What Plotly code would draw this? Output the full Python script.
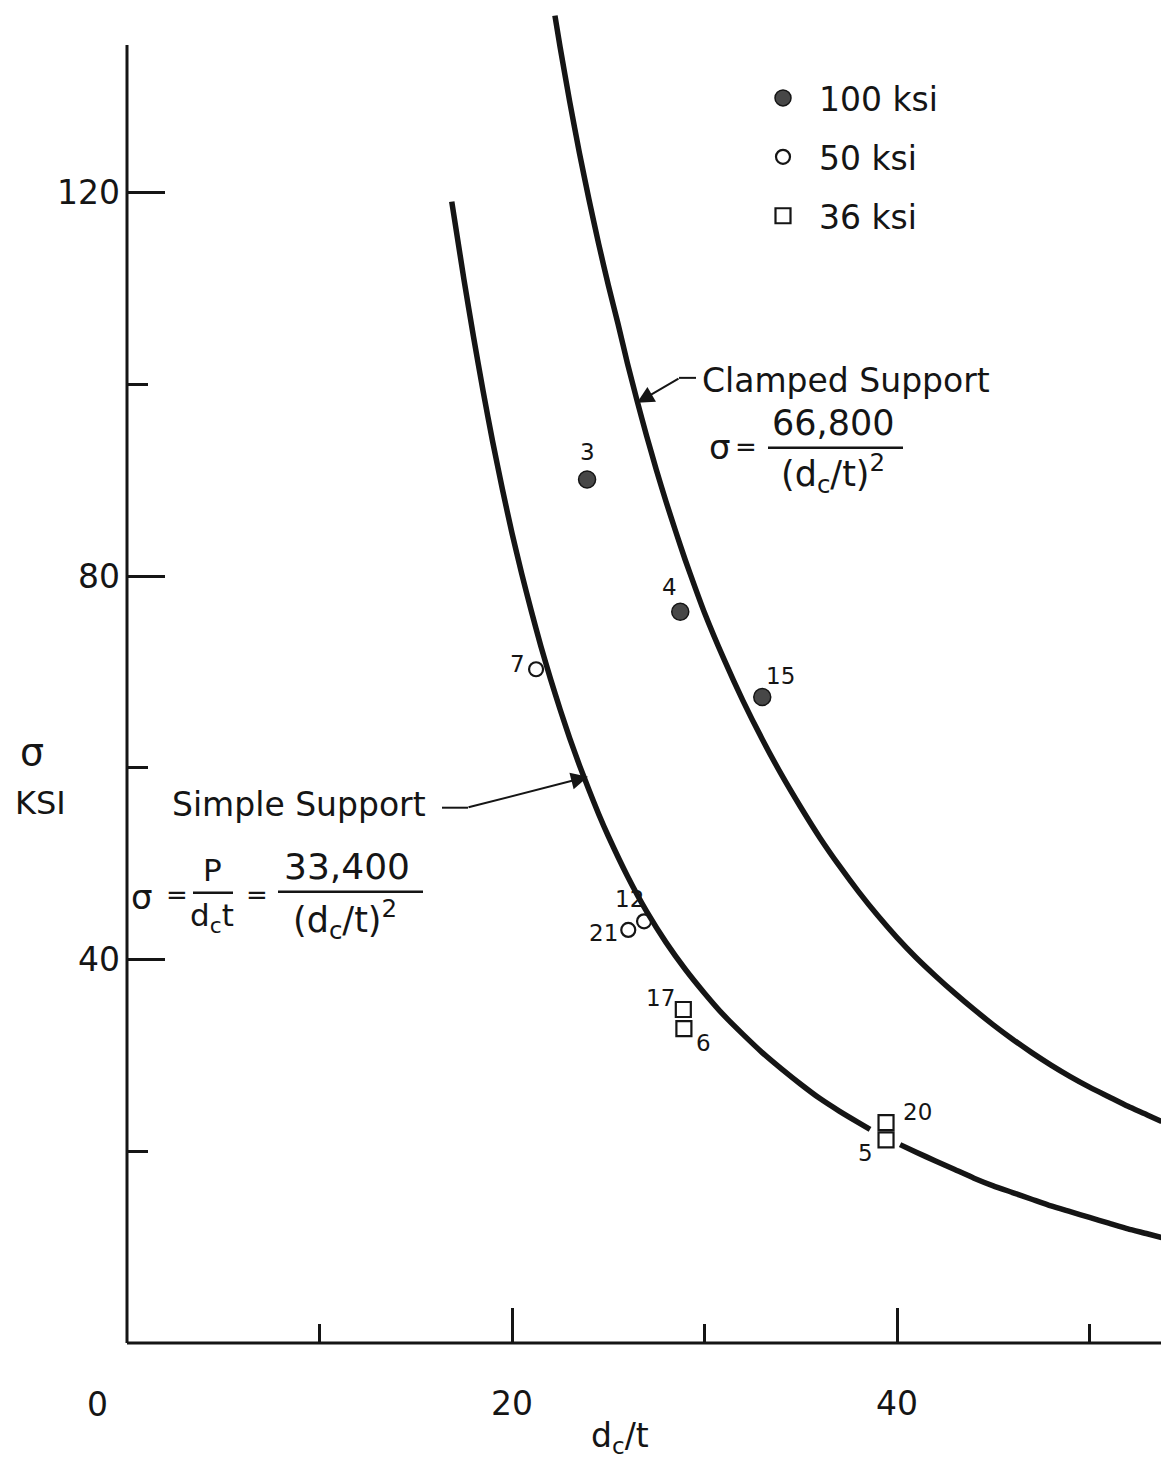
import plotly.graph_objects as go

# ---------------- data ----------------
clamped_x = [22.23, 22.5, 23, 23.5, 24, 24.5, 25, 25.5, 26, 26.5, 27, 27.5, 28, 28.5, 29, 29.5,
             30, 31, 32, 33, 34, 35, 36, 37, 38, 39, 40, 41, 42, 43, 44, 45, 46, 47, 48, 49,
             50, 51, 52, 53, 53.75]
clamped_y = [138.5, 135.2, 129.5, 124.2, 119.3, 114.7, 110.4, 106.4, 102.2, 98.3, 94.6, 91.1,
             87.8, 84.7, 81.7, 78.9, 76.2, 71.4, 67.0, 63.0, 59.3, 55.9, 52.7, 49.8, 47.1, 44.6,
             42.3, 40.2, 38.3, 36.5, 34.8, 33.2, 31.7, 30.3, 29.0, 27.8, 26.7, 25.7, 24.7, 23.8,
             23.1]

simple_x_a = [16.87, 17.5, 18, 18.5, 19, 19.5, 20, 20.5, 21, 21.5, 22, 22.5, 23, 23.5, 24, 24.5,
              25, 26, 27, 28, 29, 30, 31, 32, 33, 34, 35, 36, 37, 38, 38.6]
simple_y_a = [119.1, 111.0, 105.0, 99.3, 94.0, 89.1, 84.5, 80.3, 76.4, 72.7, 69.3, 66.1, 63.1,
              60.3, 57.7, 55.2, 52.9, 48.7, 45.0, 41.8, 39.0, 36.5, 34.2, 32.2, 30.3, 28.6, 27.0,
              25.5, 24.2, 23.0, 22.3]
simple_x_b = [40.16, 41, 42, 43, 44, 45, 46, 47, 48, 49, 50, 51, 52, 53, 53.75]
simple_y_b = [20.7, 19.9, 19.0, 18.1, 17.2, 16.4, 15.7, 15.0, 14.3, 13.7, 13.1, 12.5, 11.9, 11.4,
              11.0]

ksi100_x = [23.9, 28.74, 33.0]
ksi100_y = [90.1, 76.3, 67.4]
ksi100_lab = ["3", "4", "15"]

ksi50_x = [21.25, 26.86, 26.04]
ksi50_y = [70.3, 44.0, 43.1]
ksi50_lab = ["7", "12", "21"]

ksi36_x = [28.9, 28.93, 39.43, 39.43]
ksi36_y = [34.8, 32.8, 23.0, 21.2]
ksi36_lab = ["17", "6", "20", "5"]

x_ticks = [20, 40]
x_minor = [10, 30, 50]
y_ticks = [40, 80, 120]
y_minor = [20, 60, 100]

# label offsets in pixels (dx, dy up)
lab_off = {"3": (0, 27), "4": (-11, 25), "15": (18, 21), "7": (-19, 5),
           "12": (-15, 22), "21": (-25, -3), "17": (-23, 11), "6": (20, -14),
           "20": (31, 11), "5": (-21, -13)}

# ---------------- geometry helpers (page pixel coords; page has 8px body margin) ----------------
OFF = 8
W, H = 1169 - OFF, 1461 - OFF
Lp, Rp, Tp, Bp = 127, 1167, 13, 1343.5
PX_PER_X = 19.25
PX_PER_Y = 9.5875
XMAX = (Rp - Lp) / PX_PER_X
YMAX = (Bp - Tp) / PX_PER_Y


def pxp(x):
    return (x - Lp) / (Rp - Lp)


def pyp(y):
    return (Bp - y) / (Bp - Tp)


FONT = "DejaVu Sans"
INK = "#151515"

fig = go.Figure()

line_style = dict(color=INK, width=5.5, shape="spline", smoothing=0.5)
for xs, ys in [(clamped_x, clamped_y), (simple_x_a, simple_y_a), (simple_x_b, simple_y_b)]:
    fig.add_trace(go.Scatter(x=xs, y=ys, mode="lines", line=line_style,
                             showlegend=False, hoverinfo="skip"))

fig.add_trace(go.Scatter(x=ksi100_x, y=ksi100_y, mode="markers", name="100 ksi",
                         legendgroup="a",
                         marker=dict(symbol="circle", size=17, color="#474747",
                                     line=dict(color=INK, width=1.5))))
fig.add_trace(go.Scatter(x=ksi50_x, y=ksi50_y, mode="markers", name="50 ksi",
                         legendgroup="b",
                         marker=dict(symbol="circle-open", size=14, color=INK,
                                     line=dict(color=INK, width=2.2))))
fig.add_trace(go.Scatter(x=ksi36_x, y=ksi36_y, mode="markers", name="36 ksi",
                         legendgroup="c",
                         marker=dict(symbol="square-open", size=15, color=INK,
                                     line=dict(color=INK, width=2.2))))

annotations = []
for xs, ys, labs in [(ksi100_x, ksi100_y, ksi100_lab), (ksi50_x, ksi50_y, ksi50_lab),
                     (ksi36_x, ksi36_y, ksi36_lab)]:
    for x, y, t in zip(xs, ys, labs):
        dx, dy = lab_off[t]
        annotations.append(dict(x=x, y=y, xref="x", yref="y", text=t, showarrow=False,
                                xshift=dx, yshift=dy, font=dict(size=23, color=INK, family=FONT)))


def txt(xp, yp, text, size, anchor="center"):
    annotations.append(dict(x=pxp(xp), y=pyp(yp), xref="paper", yref="paper", text=text,
                            showarrow=False, xanchor=anchor, yanchor="middle",
                            font=dict(size=size, color=INK, family=FONT)))


# axis titles and zero label
txt(32, 752, "σ", 38)
txt(40, 803, "KSI", 32)
txt(620, 1438, "d<sub>c</sub>/t", 33)
txt(97, 1405, "0", 33)

# Clamped support label + formula
txt(700, 381, "Clamped Support", 33, anchor="left")
txt(720, 447, "σ", 34)
txt(746, 447, "=", 26)
txt(833, 423, "66,800", 35)
txt(833, 474, "(d<sub>c</sub>/t)<sup>2</sup>", 35)

# Simple support label + formula
txt(170, 805, "Simple Support", 33, anchor="left")
txt(142, 897, "σ", 34)
txt(177, 895, "=", 26)
txt(212, 870, "P", 31)
txt(212, 918, "d<sub>c</sub>t", 31)
txt(257, 895, "=", 26)
txt(347, 867, "33,400", 36)
txt(345, 920, "(d<sub>c</sub>/t)<sup>2</sup>", 35)

# leader arrows
for tip, tail in [((637, 403), (680, 378)), ((588, 777), (467, 808))]:
    annotations.append(dict(x=pxp(tip[0]), y=pyp(tip[1]), xref="paper", yref="paper",
                            text="", showarrow=True, ax=tail[0] - tip[0], ay=tail[1] - tip[1],
                            axref="pixel", ayref="pixel", arrowhead=2, arrowsize=1.7,
                            arrowwidth=2, arrowcolor=INK, standoff=0))

shapes = []


def seg(x0, y0, x1, y1, w=2):
    shapes.append(dict(type="line", xref="paper", yref="paper", x0=pxp(x0), y0=pyp(y0),
                       x1=pxp(x1), y1=pyp(y1), line=dict(color=INK, width=w)))


seg(679, 378, 696, 378)
seg(442, 808, 468, 808)
# fraction bars
seg(768, 448, 903, 448, 2.5)
seg(193, 893, 233, 893, 2.5)
seg(278, 892, 423, 892, 2.5)
# axis lines
seg(127, 45, 127, 1343.5, 3)
seg(127, 1343.5, 1163, 1343.5, 3)

fig.update_layout(
    width=W, height=H,
    margin=dict(l=Lp - OFF, r=(W + OFF) - Rp, t=Tp - OFF, b=(H + OFF) - Bp, pad=0),
    paper_bgcolor="white", plot_bgcolor="white",
    font=dict(family=FONT, color=INK),
    annotations=annotations, shapes=shapes,
    legend=dict(x=pxp(747), y=pyp(70), xanchor="left", yanchor="top",
                font=dict(size=33, family=FONT, color=INK), itemwidth=62,
                tracegroupgap=13, bgcolor="rgba(0,0,0,0)"),
    xaxis=dict(range=[0, XMAX], showgrid=False, zeroline=False, showline=False,
               tickmode="array", tickvals=x_ticks, ticks="inside", ticklen=35,
               tickwidth=2.5, tickcolor=INK, ticklabelstandoff=38,
               tickfont=dict(size=33, family=FONT, color=INK),
               minor=dict(tickmode="array", tickvals=x_minor, ticks="inside",
                          ticklen=19, tickwidth=2.5, tickcolor=INK)),
    yaxis=dict(range=[0, YMAX], showgrid=False, zeroline=False, showline=False,
               tickmode="array", tickvals=y_ticks, ticks="inside", ticklen=38,
               tickwidth=2.5, tickcolor=INK, ticklabelstandoff=6,
               tickfont=dict(size=33, family=FONT, color=INK),
               minor=dict(tickmode="array", tickvals=y_minor, ticks="inside",
                          ticklen=21, tickwidth=2.5, tickcolor=INK)),
)

fig.write_html("out.html")
